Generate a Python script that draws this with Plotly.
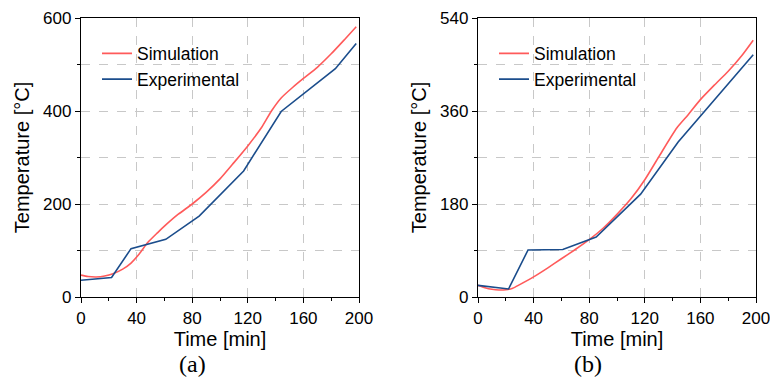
import plotly.graph_objects as go

# ---- data (a) ----
sim_a_t = [0, 5, 11, 17, 23, 30, 36, 42, 48, 55, 61, 70, 80, 90, 100, 110, 120, 130, 137, 144, 152, 160, 170, 180, 190, 198]
sim_a_T = [47, 44, 43, 45, 50, 60, 73, 93, 117, 138, 155, 178, 200, 225, 254, 289, 325, 365, 400, 428, 450, 470, 494, 523, 555, 581]
exp_a_t = [0, 22, 36, 61, 85, 117, 144, 183, 198]
exp_a_T = [36, 42, 104, 124, 174, 271, 399, 491, 545]

# ---- data (b) ----
sim_b_t = [0, 5, 10, 15, 20, 25, 30, 40, 50, 60, 70, 80, 90, 100, 110, 120, 130, 143, 150, 160, 170, 180, 190, 198]
sim_b_T = [22.5, 18, 15, 13.5, 14, 17, 24, 39, 56, 74, 92, 111, 133, 160, 190, 227, 271, 327, 349, 382, 410, 437, 468, 497]
exp_b_t = [0, 22, 36, 61, 85, 117, 144, 183, 198]
exp_b_T = [22.5, 15.5, 91, 92, 116, 199, 300, 421, 469]

x_ticks = [0, 40, 80, 120, 160, 200]
y_ticks_a = [0, 200, 400, 600]
y_ticks_b = [0, 180, 360, 540]

RED = "#ff5a5a"
BLUE = "#1b4d8c"
FONT = "Liberation Sans, Arial, sans-serif"

W, H = 770, 380
ML, MR, MT, MB = 81, 14, 18, 83
PW = W - ML - MR
PH = H - MT - MB

def px(v):
    return (v - ML) / PW

def py(v):
    return (H - MB - v) / PH

fig = go.Figure()
fig.add_trace(go.Scatter(x=sim_a_t, y=sim_a_T, mode="lines", name="Simulation",
                         line=dict(color=RED, width=1.6, shape="spline", smoothing=0.6),
                         xaxis="x", yaxis="y", legend="legend"))
fig.add_trace(go.Scatter(x=exp_a_t, y=exp_a_T, mode="lines", name="Experimental",
                         line=dict(color=BLUE, width=1.6), xaxis="x", yaxis="y", legend="legend"))
fig.add_trace(go.Scatter(x=sim_b_t, y=sim_b_T, mode="lines", name="Simulation",
                         line=dict(color=RED, width=1.6, shape="spline", smoothing=0.6),
                         xaxis="x2", yaxis="y2", legend="legend2"))
fig.add_trace(go.Scatter(x=exp_b_t, y=exp_b_T, mode="lines", name="Experimental",
                         line=dict(color=BLUE, width=1.6), xaxis="x2", yaxis="y2", legend="legend2"))

grid = dict(showgrid=True, gridcolor="#c8c8c8", griddash="dash", gridwidth=1)

def xaxis(domain, anchor):
    return dict(domain=domain, anchor=anchor, range=[0, 200], tickvals=x_ticks,
                automargin=False, ticklabeloverflow="allow",
                ticks="outside", ticklen=5, tickwidth=1.2, tickcolor="black",
                showline=True, linecolor="black", linewidth=1.3, mirror=True,
                zeroline=False, **grid,
                minor=dict(dtick=20, tick0=0, ticks="outside", ticklen=3, tickcolor="black", showgrid=False),
                tickfont=dict(family=FONT, size=17, color="black"),
                title=dict(text="Time [min]", font=dict(family=FONT, size=20, color="black"), standoff=2))

def yaxis(domain, anchor, rng, tv, minor_dt):
    return dict(domain=domain, anchor=anchor, range=rng, tickvals=tv,
                automargin=False, ticklabeloverflow="allow",
                ticks="outside", ticklen=5, tickwidth=1.2, tickcolor="black",
                showline=True, linecolor="black", linewidth=1.3, mirror=True,
                zeroline=False, **grid,
                minor=dict(dtick=minor_dt, tick0=0, ticks="outside", ticklen=3, tickcolor="black",
                           showgrid=True, gridcolor="#c8c8c8", griddash="dash", gridwidth=1),
                tickfont=dict(family=FONT, size=17, color="black"),
                title=dict(text="Temperature [°C]", font=dict(family=FONT, size=20, color="black"), standoff=8))

xd1 = [px(81), px(359)]
xd2 = [px(478), px(756)]
yd = [0, 1]

leg = dict(bgcolor="rgba(0,0,0,0)", borderwidth=0, font=dict(family=FONT, size=17.5, color="black"),
           xanchor="left", yanchor="top", tracegroupgap=0)

lab_font = dict(family="Liberation Serif, Times New Roman, serif", size=24, color="black")

fig.update_layout(
    width=W, height=H, margin=dict(l=ML, r=MR, t=MT, b=MB),
    paper_bgcolor="white", plot_bgcolor="white",
    xaxis=xaxis(xd1, "y"), yaxis=yaxis(yd, "x", [0, 600], y_ticks_a, 100),
    xaxis2=xaxis(xd2, "y2"), yaxis2=yaxis(yd, "x2", [0, 540], y_ticks_b, 90),
    legend=dict(x=px(97), y=py(35.5), **leg),
    legend2=dict(x=px(494), y=py(35.5), **leg),
    annotations=[
        dict(text="(a)", x=px(192), y=py(364), xref="paper", yref="paper", showarrow=False,
             xanchor="center", yanchor="middle", font=lab_font),
        dict(text="(b)", x=px(588), y=py(364), xref="paper", yref="paper", showarrow=False,
             xanchor="center", yanchor="middle", font=lab_font),
    ],
)

fig.write_html("out.html", config={"displayModeBar": False},
               post_script="document.body.style.margin='0px';")
